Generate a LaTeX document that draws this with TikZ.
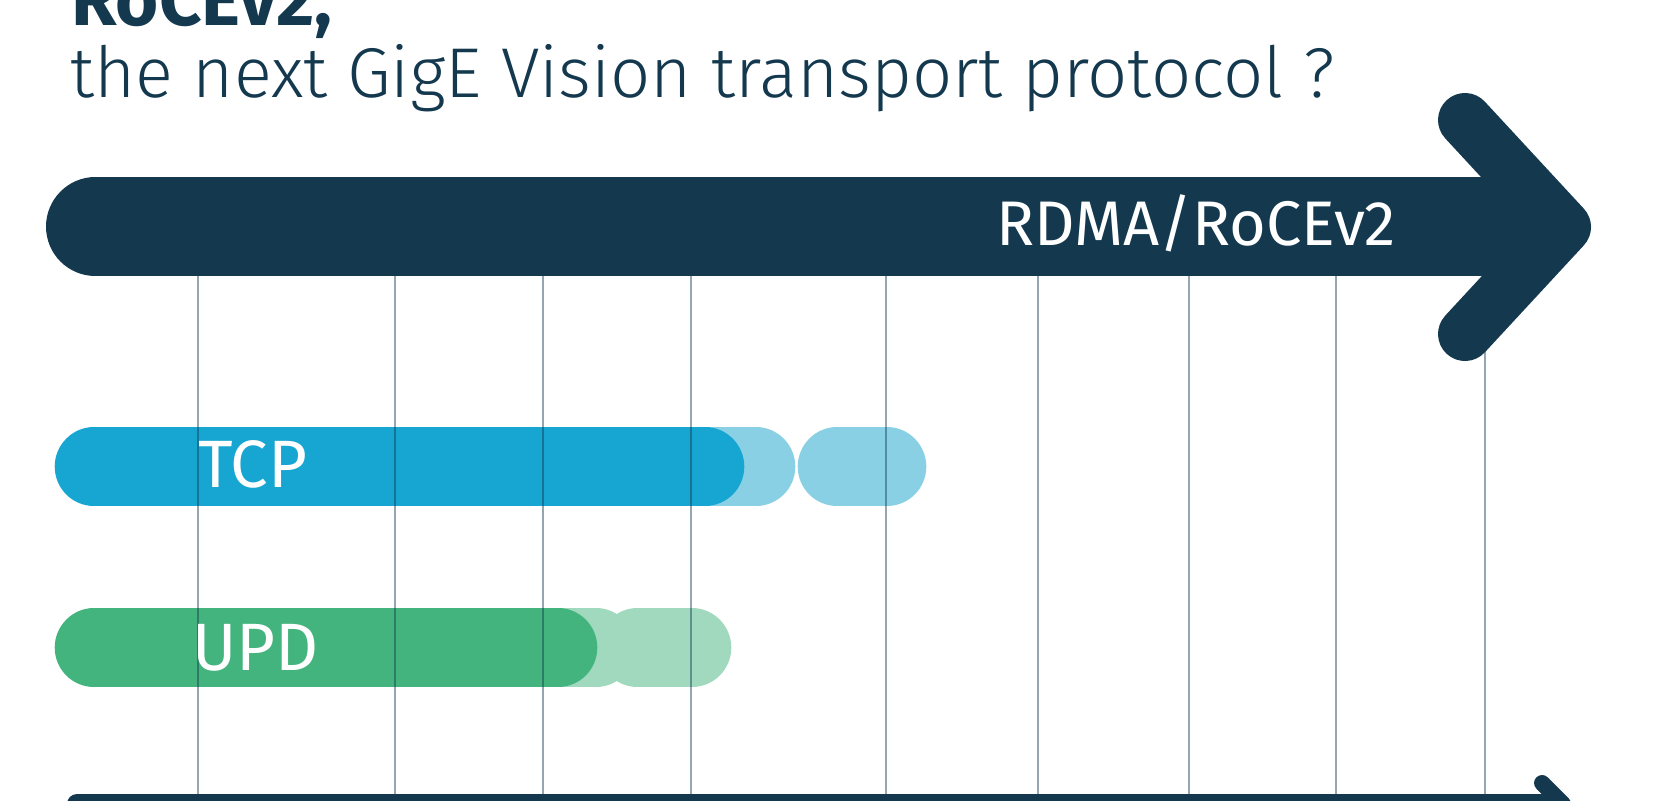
\documentclass[tikz,border=0pt]{standalone}
\usepackage{fontspec}
\setmainfont{Fira Sans}
\newfontfamily\lightfont{Fira Sans Light}
\definecolor{navy}{HTML}{14394F}
\definecolor{tcpblue}{HTML}{16A6D1}
\definecolor{tcplight}{HTML}{89D0E5}
\definecolor{udpgreen}{HTML}{43B47D}
\definecolor{udplight}{HTML}{A0D9BE}
\tikzset{
  pill/.style={line width=78.6pt, line cap=round},
  gridline/.style={navy, opacity=0.45, line width=1.8pt},
  barlabel/.style={white, anchor=base west, inner sep=0pt, font=\fontsize{63}{66}\selectfont},
}

\begin{document}
\begin{tikzpicture}[x=1pt,y=-1pt]
  \useasboundingbox (0,0) rectangle (1680,800);
  \clip (0,0) rectangle (1680,800);
  % title
  \node[navy, anchor=base west, inner sep=0pt, font=\fontsize{74}{80}\selectfont\bfseries] (head) at (71,26) {RoCEv2,};
  \node[navy, anchor=base west, inner sep=0pt, font=\lightfont\fontsize{70.5}{76}\selectfont] (subhead) at (70,97) {the next GigE Vision transport protocol ?};
  % TCP
  \draw[pill, tcplight] (837,466.7) -- (887,466.7);
  \draw[pill, tcplight] (600,466.7) -- (756,466.7);
  \draw[pill, tcpblue] (94,466.7) -- (705,466.7);
  % UPD
  \draw[pill, udplight] (637.5,647.7) -- (692,647.7);
  \draw[pill, udplight] (500,647.7) -- (596,647.7);
  \draw[pill, udpgreen] (94,647.7) -- (558,647.7);
  % grid
  \foreach \x in {198,395,543,691,886,1038,1189,1336,1485}
    \draw[gridline] (\x,250) -- (\x,800);
  % big arrow
  \draw[navy, line width=98.6pt, line cap=round] (95.3,226.7) -- (1530,226.7);
  \draw[navy, line width=54pt, line cap=round, line join=round] (1465,120) -- (1564,227) -- (1465,334);
  % axis
  \draw[navy, line width=20pt, line cap=round] (77,804) -- (1555,804);
  \draw[navy, line width=16pt, line cap=round, line join=round] (1542,783) -- (1563,804) -- (1542,825);
  % labels
  \node[barlabel] (rdma) at (996,245) {RDMA/RoCEv2};
  \node[barlabel, font=\fontsize{67}{70}\selectfont] (tcp) at (198,487.3) {TCP};
  \node[barlabel, font=\fontsize{67}{70}\selectfont] (upd) at (192,670.7) {UPD};
\end{tikzpicture}
\end{document}
